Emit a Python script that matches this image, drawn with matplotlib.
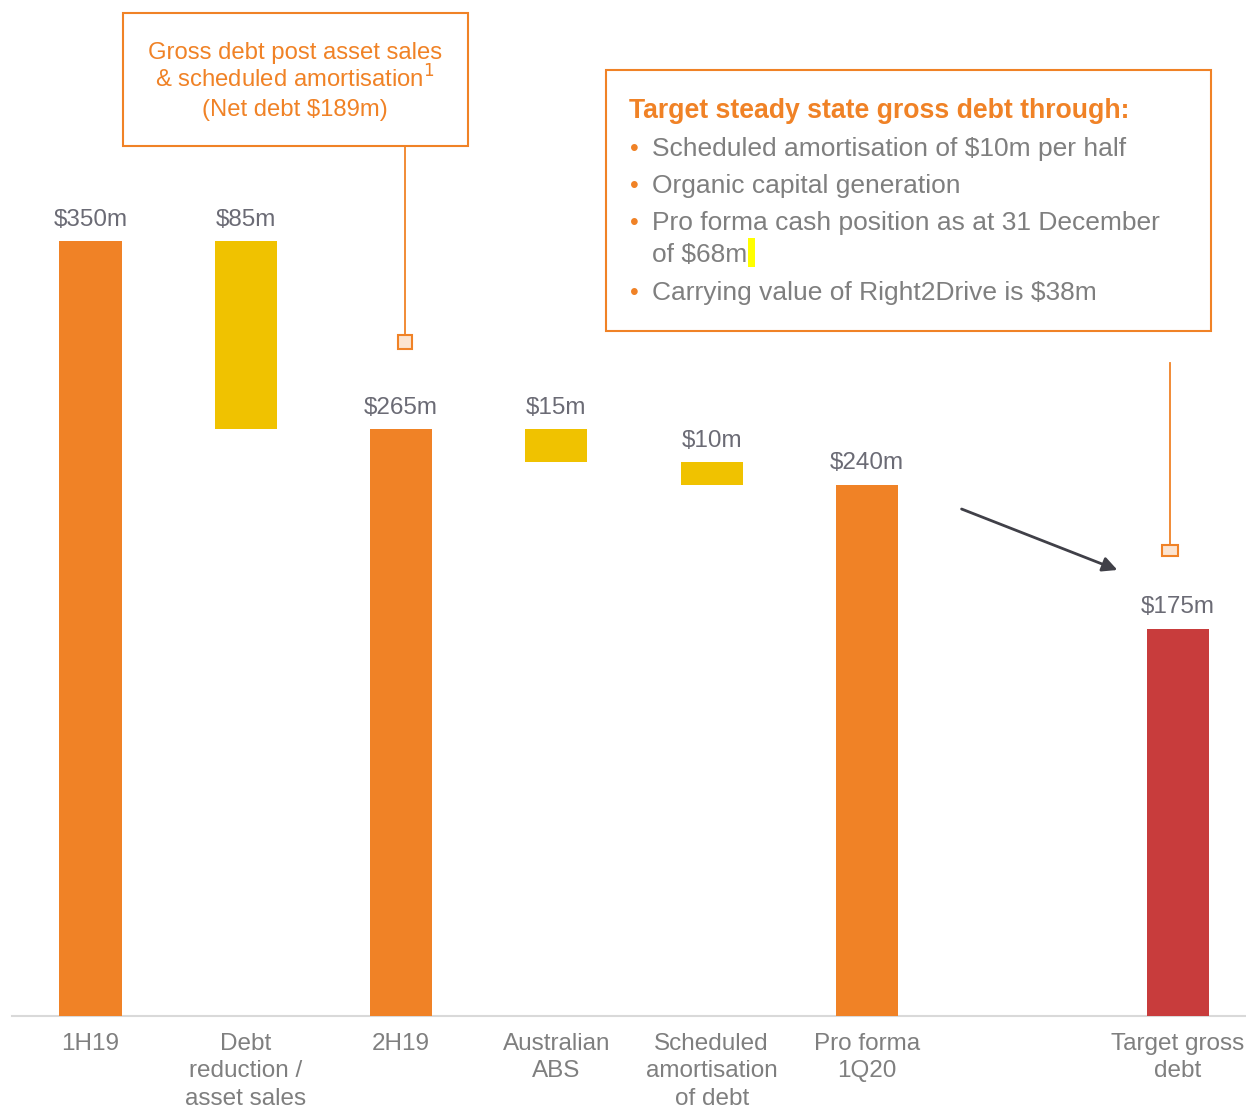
import matplotlib
matplotlib.use("Agg")
import matplotlib.pyplot as plt
from matplotlib.patches import Rectangle, FancyArrowPatch
from matplotlib.lines import Line2D

plt.rcParams['font.family'] = ['Liberation Sans', 'DejaVu Sans']

# ---- data ----
categories = ["1H19", "Debt\nreduction /\nasset sales", "2H19", "Australian\nABS",
              "Scheduled\namortisation\nof debt", "Pro forma\n1Q20", "Target gross\ndebt"]
positions = [0, 1, 2, 3, 4, 5, 7]
bar_bottoms = [0, 265, 0, 250, 240, 0, 0]
bar_heights = [350, 85, 265, 15, 10, 240, 175]
value_labels = ["$350m", "$85m", "$265m", "$15m", "$10m", "$240m", "$175m"]
kinds = ["total", "step", "total", "step", "step", "total", "target"]

box1_lines = ["Gross debt post asset sales", "& scheduled amortisation$^{1}$", "(Net debt $189m)"]
box2_title = "Target steady state gross debt through:"
box2_bullets = [["Scheduled amortisation of $10m per half"],
                ["Organic capital generation"],
                ["Pro forma cash position as at 31 December", "of $68m"],
                ["Carrying value of Right2Drive is $38m"]]

ORANGE = "#F08226"
YELLOW = "#F0C200"
RED = "#C83C3C"
GRAY = "#7F7F7F"
VGRAY = "#6B6B75"
colors = {"total": ORANGE, "step": YELLOW, "target": RED}

W, H = 1246, 1111
fig = plt.figure(figsize=(W / 100, H / 100), dpi=100)

def fx(x):
    return x / W

def fy(y):
    return 1 - y / H

# axes: x from px 12 to 1246, y from px 0 to 1016 (baseline)
slot = 155.3
x0 = 90.5
ax = fig.add_axes([fx(12), fy(1016), fx(1246) - fx(12), fy(0) - fy(1016)])
ax.set_xlim((12 - x0) / slot, (1246 - x0) / slot)
ppu = (1016 - 241) / 350.0
ax.set_ylim(0, 1016 / ppu)

for p, b, h, lab, k in zip(positions, bar_bottoms, bar_heights, value_labels, kinds):
    ax.bar(p, h, bottom=b, width=0.4, color=colors[k], zorder=3)
    ax.annotate(lab, (p, b + h), xytext=(0, 7.5), textcoords="offset points",
                ha="center", va="bottom", fontsize=17.5, color=VGRAY)

for s in ["top", "right", "left"]:
    ax.spines[s].set_visible(False)
ax.spines["bottom"].set_color("#D9D9D9")
ax.spines["bottom"].set_linewidth(1.5)
ax.set_yticks([])
ax.set_xticks(positions)
ax.set_xticklabels(categories, fontsize=17.5, color=GRAY, linespacing=1.3)
ax.tick_params(axis="x", length=0, pad=12.5)

# ---- annotation box 1 ----
fig.patches.append(Rectangle((fx(123), fy(146)), fx(468) - fx(123), fy(13) - fy(146),
                             transform=fig.transFigure, fill=False, edgecolor=ORANGE, lw=1.5))
for i, t in enumerate(box1_lines):
    fig.text(fx(295), fy(59 + 28.5 * i), t, ha="center", va="baseline",
             fontsize=17.2, color=ORANGE)
fig.add_artist(Line2D([fx(405), fx(405)], [fy(146), fy(335)], transform=fig.transFigure,
                      color=ORANGE, lw=1.3))
fig.patches.append(Rectangle((fx(398), fy(349)), fx(412) - fx(398), fy(335) - fy(349),
                             transform=fig.transFigure, facecolor="#FCE4D0",
                             edgecolor=ORANGE, lw=1.5))

# ---- annotation box 2 ----
fig.patches.append(Rectangle((fx(606), fy(331)), fx(1211) - fx(606), fy(70) - fy(331),
                             transform=fig.transFigure, fill=False, edgecolor=ORANGE, lw=1.5))
fig.text(fx(629), fy(111), box2_title, ha="left", va="center", fontsize=19.2,
         fontweight="bold", color=ORANGE)
ys = [149, 186, 223, 293]
for yy, lines in zip(ys, box2_bullets):
    fig.text(fx(634), fy(yy), "•", ha="center", va="center", fontsize=18, color=ORANGE)
    for j, t in enumerate(lines):
        fig.text(fx(652), fy(yy + 32 * j), t, ha="left", va="center",
                 fontsize=19, color=GRAY)
# small yellow highlight after "$68m"
fig.patches.append(Rectangle((fx(748), fy(267)), fx(755) - fx(748), fy(238) - fy(267),
                             transform=fig.transFigure, facecolor="#FFFF00", edgecolor="none"))

fig.add_artist(Line2D([fx(1170), fx(1170)], [fy(363), fy(545)], transform=fig.transFigure,
                      color=ORANGE, lw=1.3))
fig.patches.append(Rectangle((fx(1162), fy(556)), fx(1178) - fx(1162), fy(545) - fy(556),
                             transform=fig.transFigure, facecolor="#FCE4D0",
                             edgecolor=ORANGE, lw=1.5))

# ---- arrow ----
fig.patches.append(FancyArrowPatch((fx(959), fy(508)), (fx(1120), fy(571)),
                                   transform=fig.transFigure, arrowstyle="-|>",
                                   mutation_scale=22, color="#404048", lw=2))

fig.savefig("out.png", dpi=100)
